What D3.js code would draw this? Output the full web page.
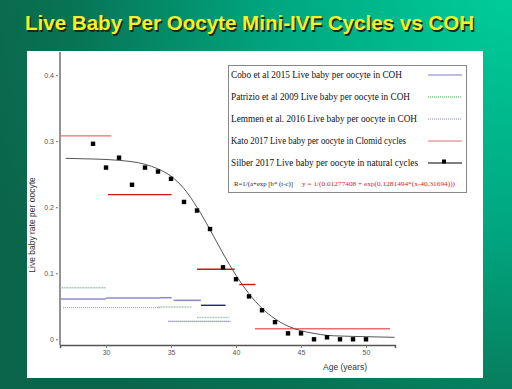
<!DOCTYPE html>
<html>
<head>
<meta charset="utf-8">
<script src="https://cdn.jsdelivr.net/npm/d3@7/dist/d3.min.js"></script>
<style>
  body { margin: 0; padding: 0; overflow: hidden; }
  svg { display: block; }
</style>
</head>
<body>
<div id="chart"></div>
<script>
// Silber 2017, natural cycles (points)
var ages = [29, 30, 31, 32, 33, 34, 35, 36, 37, 38, 39, 40, 41, 42, 43, 44, 45, 46, 47, 48, 49, 50];
var liveBaby = [0.296, 0.260, 0.275, 0.234, 0.260, 0.254, 0.243, 0.208, 0.195, 0.167, 0.109, 0.091,
                0.065, 0.044, 0.026, 0.009, 0.009, 0.000, 0.003, 0.000, 0.000, 0.000];

// fitted curve
var fitAges = [26.9, 29, 31, 33, 34, 35, 36, 37, 38, 39, 40, 41, 42, 43, 44, 45, 46, 47, 48, 50, 52.2];
var fitValues = [0.274, 0.273, 0.271, 0.265, 0.258, 0.247, 0.228, 0.200, 0.166, 0.130, 0.097, 0.069,
                 0.047, 0.031, 0.020, 0.013, 0.009, 0.006, 0.005, 0.004, 0.003];

// horizontal segments: [age from, age to, live baby per oocyte]
var cobo = [[26.5, 30, 0.061], [30, 34.15, 0.0625], [34.15, 35.05, 0.063], [35.2, 37.3, 0.059]];
var coboDark = [[37.3, 39.2, 0.0515]];
var patrizio = [[26.5, 30, 0.078], [34, 36.6, 0.049], [37, 39.5, 0.033]];
var patrizioGray = [[26.7, 34.2, 0.048]];
var lemmen = [[34.8, 39.6, 0.0273]];
var kato = [[26.5, 30.4, 0.308], [41.45, 51.85, 0.016]];
var katoDark = [[30.15, 35.05, 0.219], [37, 39.9, 0.106], [40.25, 41.5, 0.083]];

var xTicks = [30, 35, 40, 45, 50];
var yTicks = [0, 0.1, 0.2, 0.3, 0.4];

var legendLabels = [
  "Cobo et al 2015 Live baby per oocyte in COH",
  "Patrizio et al 2009 Live baby per oocyte in COH",
  "Lemmen et al. 2016 Live baby per oocyte in COH",
  "Kato 2017 Live baby per oocyte in Clomid cycles",
  "Silber 2017 Live baby per oocyte in natural cycles"
];
var formulaLeft = "R=1/(a+exp [b* (t-c)]";
var formulaRight = "y = 1/(0.01277408 + exp(0.1281494*(x-40.31694)))";

const W = 512, H = 389;

const svg = d3.select("#chart")
  .append("svg")
    .attr("width", W)
    .attr("height", H);

// background
const defs = svg.append("defs");
const grad = defs.append("radialGradient")
    .attr("id", "bg")
    .attr("gradientUnits", "userSpaceOnUse")
    .attr("cx", 520).attr("cy", -20).attr("r", 560);
grad.append("stop").attr("offset", "0%").attr("stop-color", "#00d09c");
grad.append("stop").attr("offset", "45%").attr("stop-color", "#00a680");
grad.append("stop").attr("offset", "80%").attr("stop-color", "#087454");
grad.append("stop").attr("offset", "100%").attr("stop-color", "#0b654b");
svg.append("rect").attr("width", W).attr("height", H).attr("fill", "url(#bg)");

// title
const title = "Live Baby Per Oocyte Mini-IVF Cycles vs COH";
svg.append("text")
    .attr("x", 26.5).attr("y", 31.5)
    .attr("font-family", "Liberation Sans, Arial, sans-serif")
    .attr("font-weight", "bold")
    .attr("font-size", 20.5)
    .attr("textLength", 449).attr("lengthAdjust", "spacingAndGlyphs")
    .attr("fill", "#1a2a10")
    .text(title);
svg.append("text")
    .attr("x", 25).attr("y", 30)
    .attr("font-family", "Liberation Sans, Arial, sans-serif")
    .attr("font-weight", "bold")
    .attr("font-size", 20.5)
    .attr("textLength", 449).attr("lengthAdjust", "spacingAndGlyphs")
    .attr("fill", "#f2f22a")
    .text(title);

// white panel
svg.append("rect")
    .attr("x", 27).attr("y", 51)
    .attr("width", 456).attr("height", 327)
    .attr("fill", "#ffffff");

// scales
const x = d3.scaleLinear().domain([26.46, 52.23]).range([60, 395]);
const y = d3.scaleLinear().domain([-0.0086, 0.435]).range([345, 52]);

// axes
const gx = svg.append("g")
    .attr("transform", "translate(0,345)")
    .call(d3.axisBottom(x).tickValues(xTicks).tickSizeOuter(0).tickSize(3).tickPadding(2));
gx.select(".domain").attr("stroke", "#555").attr("stroke-width", 1.4);
gx.selectAll(".tick line").attr("stroke", "#777");
gx.selectAll(".tick text").attr("fill", "#555").attr("font-size", 7)
    .attr("font-family", "Liberation Sans, Arial, sans-serif");

const gy = svg.append("g")
    .attr("transform", "translate(58,0)")
    .call(d3.axisLeft(y).tickValues(yTicks).tickSize(2).tickPadding(2)
      .tickFormat(function(d) { return d === 0 ? "0" : d3.format(".1f")(d); }));
gy.select(".domain").remove();
gy.selectAll(".tick line").attr("stroke", "#777");
gy.selectAll(".tick text").attr("fill", "#555").attr("font-size", 7)
    .attr("font-family", "Liberation Sans, Arial, sans-serif");

svg.append("line")
    .attr("x1", 60).attr("x2", 60)
    .attr("y1", y.range()[1]).attr("y2", 345)
    .attr("stroke", "#666").attr("stroke-width", 1.4);

// axis titles
svg.append("text")
    .attr("transform", "translate(35,225) rotate(-90)")
    .attr("text-anchor", "middle")
    .attr("font-family", "Liberation Sans, Arial, sans-serif")
    .attr("font-size", 8.5)
    .attr("fill", "#333")
    .text("Live baby rate per oocyte");
svg.append("text")
    .attr("x", 345).attr("y", 370)
    .attr("text-anchor", "middle")
    .attr("font-family", "Liberation Sans, Arial, sans-serif")
    .attr("font-size", 8.5)
    .attr("fill", "#333")
    .text("Age (years)");

// segments
function drawSegments(data, color, width, dash) {
  svg.append("g").selectAll("line")
    .data(data)
    .join("line")
      .attr("x1", function(d) { return x(d[0]); })
      .attr("x2", function(d) { return x(d[1]); })
      .attr("y1", function(d) { return y(d[2]); })
      .attr("y2", function(d) { return y(d[2]); })
      .attr("stroke", color)
      .attr("stroke-width", width)
      .attr("stroke-dasharray", dash);
}
drawSegments(patrizioGray, "#a4a4b4", 1.3, "1,1");
drawSegments(patrizio, "#9ec4ac", 1.5, "1,0.6");
drawSegments(lemmen, "#5a5aa0", 1.2, "1,1");
drawSegments(cobo, "#8c8ccc", 1.6, null);
drawSegments(coboDark, "#22228c", 1.4, null);
drawSegments(kato, "#ea6e6e", 1.3, null);
drawSegments(katoDark, "#c81818", 1.4, null);

// fit curve
const fit = fitAges.map(function(a, i) { return [a, fitValues[i]]; });
svg.append("path")
    .datum(fit)
    .attr("fill", "none")
    .attr("stroke", "#555")
    .attr("stroke-width", 1)
    .attr("d", d3.line()
      .curve(d3.curveMonotoneX)
      .x(function(d) { return x(d[0]); })
      .y(function(d) { return y(d[1]); }));

// points
svg.append("g").selectAll("rect")
  .data(ages)
  .join("rect")
    .attr("x", function(d) { return x(d) - 2.2; })
    .attr("y", function(d, i) { return y(liveBaby[i]) - 2.2; })
    .attr("width", 4.4).attr("height", 4.4)
    .attr("fill", "#000");

// legend
const lg = svg.append("g");
lg.append("rect")
    .attr("x", 228.5).attr("y", 65.5)
    .attr("width", 238).attr("height", 127)
    .attr("fill", "#fff")
    .attr("stroke", "#888").attr("stroke-width", 1);

const rowY = [75, 97, 119, 141, 163];
const rowWidth = [171, 179, 186, 175, 187];
const legendStyle = [
  {color: "#7c7cd0", dash: null},
  {color: "#3c9c4c", dash: "1,1"},
  {color: "#8c8cc4", dash: "1,1"},
  {color: "#e07070", dash: null},
  {color: "#000", dash: null}
];
legendLabels.forEach(function(t, i) {
  lg.append("text")
    .attr("x", 231).attr("y", rowY[i] + 2.5)
    .attr("font-family", "Liberation Serif, Times New Roman, serif")
    .attr("font-size", 9.6)
    .attr("textLength", rowWidth[i]).attr("lengthAdjust", "spacingAndGlyphs")
    .attr("fill", "#111")
    .text(t);
  lg.append("line")
    .attr("x1", 428).attr("x2", 462)
    .attr("y1", rowY[i]).attr("y2", rowY[i])
    .attr("stroke", legendStyle[i].color)
    .attr("stroke-width", 1.1)
    .attr("stroke-dasharray", legendStyle[i].dash);
});
lg.append("rect")
    .attr("x", 442).attr("y", rowY[4] - 3.5)
    .attr("width", 4).attr("height", 4)
    .attr("fill", "#000");

lg.append("text")
    .attr("x", 234).attr("y", 186)
    .attr("font-family", "Liberation Serif, Times New Roman, serif")
    .attr("font-size", 7)
    .attr("textLength", 59).attr("lengthAdjust", "spacingAndGlyphs")
    .attr("fill", "#222")
    .text(formulaLeft);
lg.append("text")
    .attr("x", 302).attr("y", 186)
    .attr("font-family", "Liberation Serif, Times New Roman, serif")
    .attr("font-size", 7)
    .attr("textLength", 153).attr("lengthAdjust", "spacingAndGlyphs")
    .attr("fill", "#e02020")
    .text(formulaRight);
</script>
</body>
</html>
